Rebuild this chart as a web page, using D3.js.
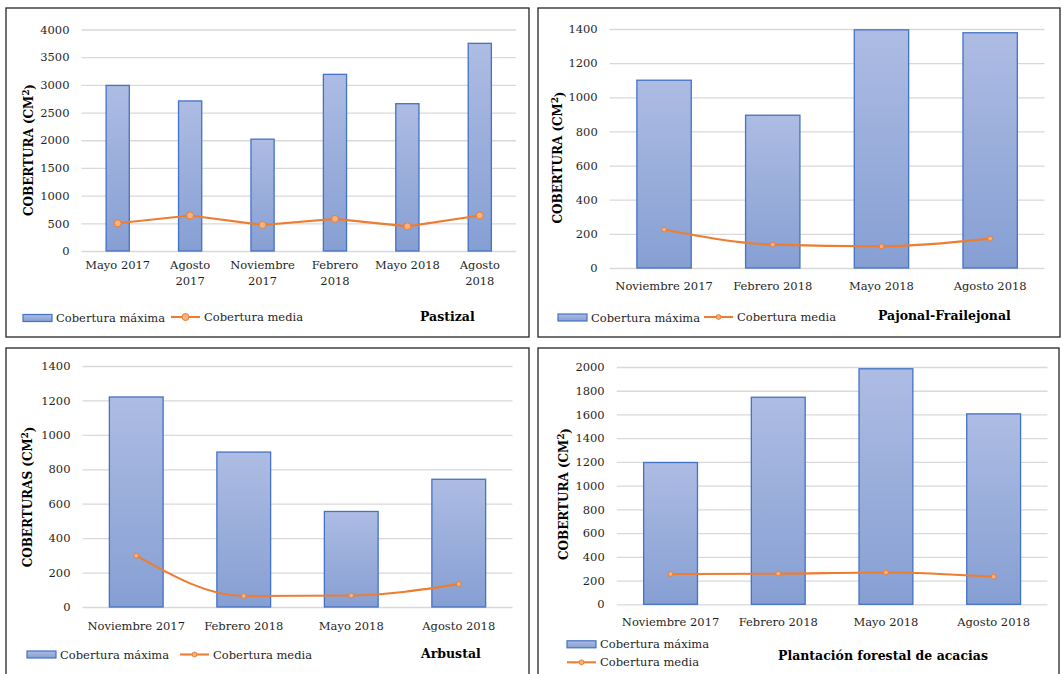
<!DOCTYPE html>
<html>
<head>
<meta charset="utf-8">
<script src="https://cdn.jsdelivr.net/npm/d3@7"></script>
<style>
  html, body { margin: 0; padding: 0; background: #ffffff; }
  svg { display: block; }
  text { font-family: "DejaVu Serif", Cambria, serif; }
</style>
</head>
<body>
<svg id="chart" width="1063" height="674"></svg>
<script>
// Sampling dates
const mesesPastizal = ["Mayo 2017", "Agosto 2017", "Noviembre 2017", "Febrero 2018", "Mayo 2018", "Agosto 2018"];
const mesesCobertura = ["Noviembre 2017", "Febrero 2018", "Mayo 2018", "Agosto 2018"];

// Pastizal (cm²)
const pastizalMaxima = [2990, 2710, 2020, 3190, 2660, 3750];
const pastizalMedia = [500, 640, 470, 580, 445, 640];
const pastizalTicks = [0, 500, 1000, 1500, 2000, 2500, 3000, 3500, 4000];

// Pajonal-Frailejonal (cm²)
const pajonalMaxima = [1100, 895, 1395, 1378];
const pajonalMedia = [225, 137, 127, 172];
const pajonalTicks = [0, 200, 400, 600, 800, 1000, 1200, 1400];

// Arbustal (cm²)
const arbustalMaxima = [1220, 900, 555, 742];
const arbustalMedia = [298, 64, 67, 133];
const arbustalTicks = [0, 200, 400, 600, 800, 1000, 1200, 1400];

// Plantación forestal de acacias (cm²)
const acaciasMaxima = [1195, 1745, 1985, 1605];
const acaciasMedia = [255, 258, 268, 232];
const acaciasTicks = [0, 200, 400, 600, 800, 1000, 1200, 1400, 1600, 1800, 2000];

const serieMaxima = "Cobertura máxima";
const serieMedia = "Cobertura media";

const svg = d3.select("#chart");
const TEXT = "#1f1f1f";
const ORANGE = "#ed7d31";
const ORANGE_FILL = "#f4b183";
const BAR_STROKE = "#4472c4";

// Vertical gradient used by every bar and legend swatch
const defs = svg.append("defs");
const grad = defs.append("linearGradient")
  .attr("id", "barGrad").attr("x1", 0).attr("y1", 0).attr("x2", 0).attr("y2", 1);
grad.append("stop").attr("offset", "0%").attr("stop-color", "#adbce3");
grad.append("stop").attr("offset", "100%").attr("stop-color", "#869fd3");

function wrapLabel(textSel, maxWidth, lineHeight) {
  textSel.each(function() {
    const t = d3.select(this);
    const words = t.text().split(" ");
    const x = t.attr("x");
    t.text(null);
    let line = [];
    let tspan = t.append("tspan").attr("x", x).attr("dy", 0);
    words.forEach(w => {
      line.push(w);
      tspan.text(line.join(" "));
      if (tspan.node().getComputedTextLength() > maxWidth && line.length > 1) {
        line.pop();
        tspan.text(line.join(" "));
        line = [w];
        tspan = t.append("tspan").attr("x", x).attr("dy", lineHeight).text(w);
      }
    });
  });
}

function drawPanel(p) {
  const g = svg.append("g");

  // panel frame
  g.append("rect")
    .attr("x", p.frame[0]).attr("y", p.frame[1])
    .attr("width", p.frame[2] - p.frame[0]).attr("height", p.frame[3] - p.frame[1])
    .attr("fill", "#fff").attr("stroke", "#262626").attr("stroke-width", 1.3);

  const x = d3.scaleBand().domain(p.cats).range([p.left, p.right]).padding(0);
  const y = d3.scaleLinear().domain([0, p.ticks[p.ticks.length - 1]]).range([p.bottom, p.top]);

  // gridlines and value labels
  const yAxis = g.append("g")
    .attr("transform", `translate(${p.left},0)`)
    .call(d3.axisLeft(y).tickValues(p.ticks).tickSize(-(p.right - p.left)).tickPadding(12).tickFormat(d3.format("d")));
  yAxis.select(".domain").remove();
  yAxis.selectAll(".tick line").attr("stroke", "#d9d9d9").attr("stroke-width", 1.3);
  yAxis.selectAll(".tick text")
    .attr("fill", TEXT).style("font-size", "11.5px").style("font-family", "'DejaVu Serif', serif");

  // bars
  const bw = x.bandwidth() * p.barRatio;
  g.selectAll("rect.bar").data(p.maxima).enter().append("rect")
    .attr("class", "bar")
    .attr("x", (d, i) => x(p.cats[i]) + (x.bandwidth() - bw) / 2)
    .attr("y", d => y(d))
    .attr("width", bw)
    .attr("height", d => y(0) - y(d))
    .attr("fill", "url(#barGrad)")
    .attr("stroke", BAR_STROKE).attr("stroke-width", 1.3);

  // mean cover line
  const cx = i => x(p.cats[i]) + x.bandwidth() / 2;
  const line = d3.line().x((d, i) => cx(i)).y(d => y(d)).curve(p.curve);
  g.append("path").datum(p.media)
    .attr("d", line).attr("fill", "none")
    .attr("stroke", ORANGE).attr("stroke-width", 2.1);
  g.selectAll("circle.pt").data(p.media).enter().append("circle")
    .attr("class", "pt")
    .attr("cx", (d, i) => cx(i)).attr("cy", d => y(d)).attr("r", p.markerR)
    .attr("fill", ORANGE_FILL).attr("stroke", ORANGE).attr("stroke-width", 1);

  // category labels
  const xl = g.selectAll("text.xl").data(p.cats).enter().append("text")
    .attr("class", "xl")
    .attr("x", d => x(d) + x.bandwidth() / 2)
    .attr("y", p.bottom + p.labelOffset)
    .attr("dy", "0.35em")
    .attr("text-anchor", "middle")
    .attr("fill", TEXT).style("font-size", "11.5px")
    .text(d => d);
  if (p.wrap) wrapLabel(xl, p.wrap, 15.7);

  // axis title
  const yt = g.append("text")
    .attr("transform", `translate(${p.yTitle[0]},${p.yTitle[1]}) rotate(-90)`)
    .attr("text-anchor", "middle").attr("dy", "0.35em")
    .attr("fill", "#000").style("font-size", "12px").style("font-weight", "bold");
  yt.append("tspan").text(p.yTitleText + " (CM");
  yt.append("tspan").text("2").attr("dy", "-0.45em").style("font-size", "8.5px");
  yt.append("tspan").text(")").attr("dy", "0.45em");

  // legend
  const L = p.legend;
  g.append("rect")
    .attr("x", L.bar[0]).attr("y", L.bar[1] - 3.5).attr("width", 29).attr("height", 7)
    .attr("fill", "url(#barGrad)").attr("stroke", BAR_STROKE).attr("stroke-width", 1.2);
  g.append("text")
    .attr("x", L.bar[0] + 33).attr("y", L.bar[1]).attr("dy", "0.35em")
    .attr("fill", TEXT).style("font-size", "11.5px").text(serieMaxima);
  g.append("line")
    .attr("x1", L.line[0]).attr("x2", L.line[0] + 29)
    .attr("y1", L.line[1]).attr("y2", L.line[1])
    .attr("stroke", ORANGE).attr("stroke-width", 2.1);
  g.append("circle")
    .attr("cx", L.line[0] + 14.5).attr("cy", L.line[1]).attr("r", p.markerR)
    .attr("fill", ORANGE_FILL).attr("stroke", ORANGE).attr("stroke-width", 1);
  g.append("text")
    .attr("x", L.line[0] + 33).attr("y", L.line[1]).attr("dy", "0.35em")
    .attr("fill", TEXT).style("font-size", "11.5px").text(serieMedia);

  // panel name
  g.append("text")
    .attr("x", p.name[0]).attr("y", p.name[1]).attr("dy", "0.35em")
    .attr("fill", "#000").style("font-size", "12.5px").style("font-weight", "bold")
    .text(p.nameText);
}

// smoothed mean line without overshoot between flat neighbours
const smooth = d3.curveMonotoneX;

drawPanel({
  frame: [6, 8, 529, 337],
  cats: mesesPastizal, maxima: pastizalMaxima, media: pastizalMedia, ticks: pastizalTicks,
  left: 81.5, right: 516, bottom: 251, top: 29.5,
  barRatio: 0.32, markerR: 3.5, curve: d3.curveLinear,
  labelOffset: 18, wrap: 68,
  yTitle: [28.5, 150], yTitleText: "COBERTURA",
  legend: { bar: [23, 318], line: [171, 317] },
  name: [420, 317], nameText: "Pastizal"
});

drawPanel({
  frame: [538, 8, 1060, 337],
  cats: mesesCobertura, maxima: pajonalMaxima, media: pajonalMedia, ticks: pajonalTicks,
  left: 609.7, right: 1044.5, bottom: 268, top: 29,
  barRatio: 0.5, markerR: 2.4, curve: smooth,
  labelOffset: 17.5, wrap: null,
  yTitle: [558, 157.5], yTitleText: "COBERTURA",
  legend: { bar: [558, 317.5], line: [704, 317] },
  name: [878, 316], nameText: "Pajonal-Frailejonal"
});

drawPanel({
  frame: [6, 348, 529, 700],
  cats: mesesCobertura, maxima: arbustalMaxima, media: arbustalMedia, ticks: arbustalTicks,
  left: 82.5, right: 512.5, bottom: 607, top: 366,
  barRatio: 0.5, markerR: 2.4, curve: smooth,
  labelOffset: 19, wrap: null,
  yTitle: [28, 497], yTitleText: "COBERTURAS",
  legend: { bar: [27, 654.5], line: [180, 654.5] },
  name: [421, 654], nameText: "Arbustal"
});

drawPanel({
  frame: [538, 348, 1059, 700],
  cats: mesesCobertura, maxima: acaciasMaxima, media: acaciasMedia, ticks: acaciasTicks,
  left: 616.7, right: 1047.5, bottom: 604.3, top: 367,
  barRatio: 0.5, markerR: 2.4, curve: smooth,
  labelOffset: 18, wrap: null,
  yTitle: [564, 494], yTitleText: "COBERTURA",
  legend: { bar: [567, 644.3], line: [567, 662.3] },
  name: [778, 656], nameText: "Plantación forestal de acacias"
});
</script>
</body>
</html>
